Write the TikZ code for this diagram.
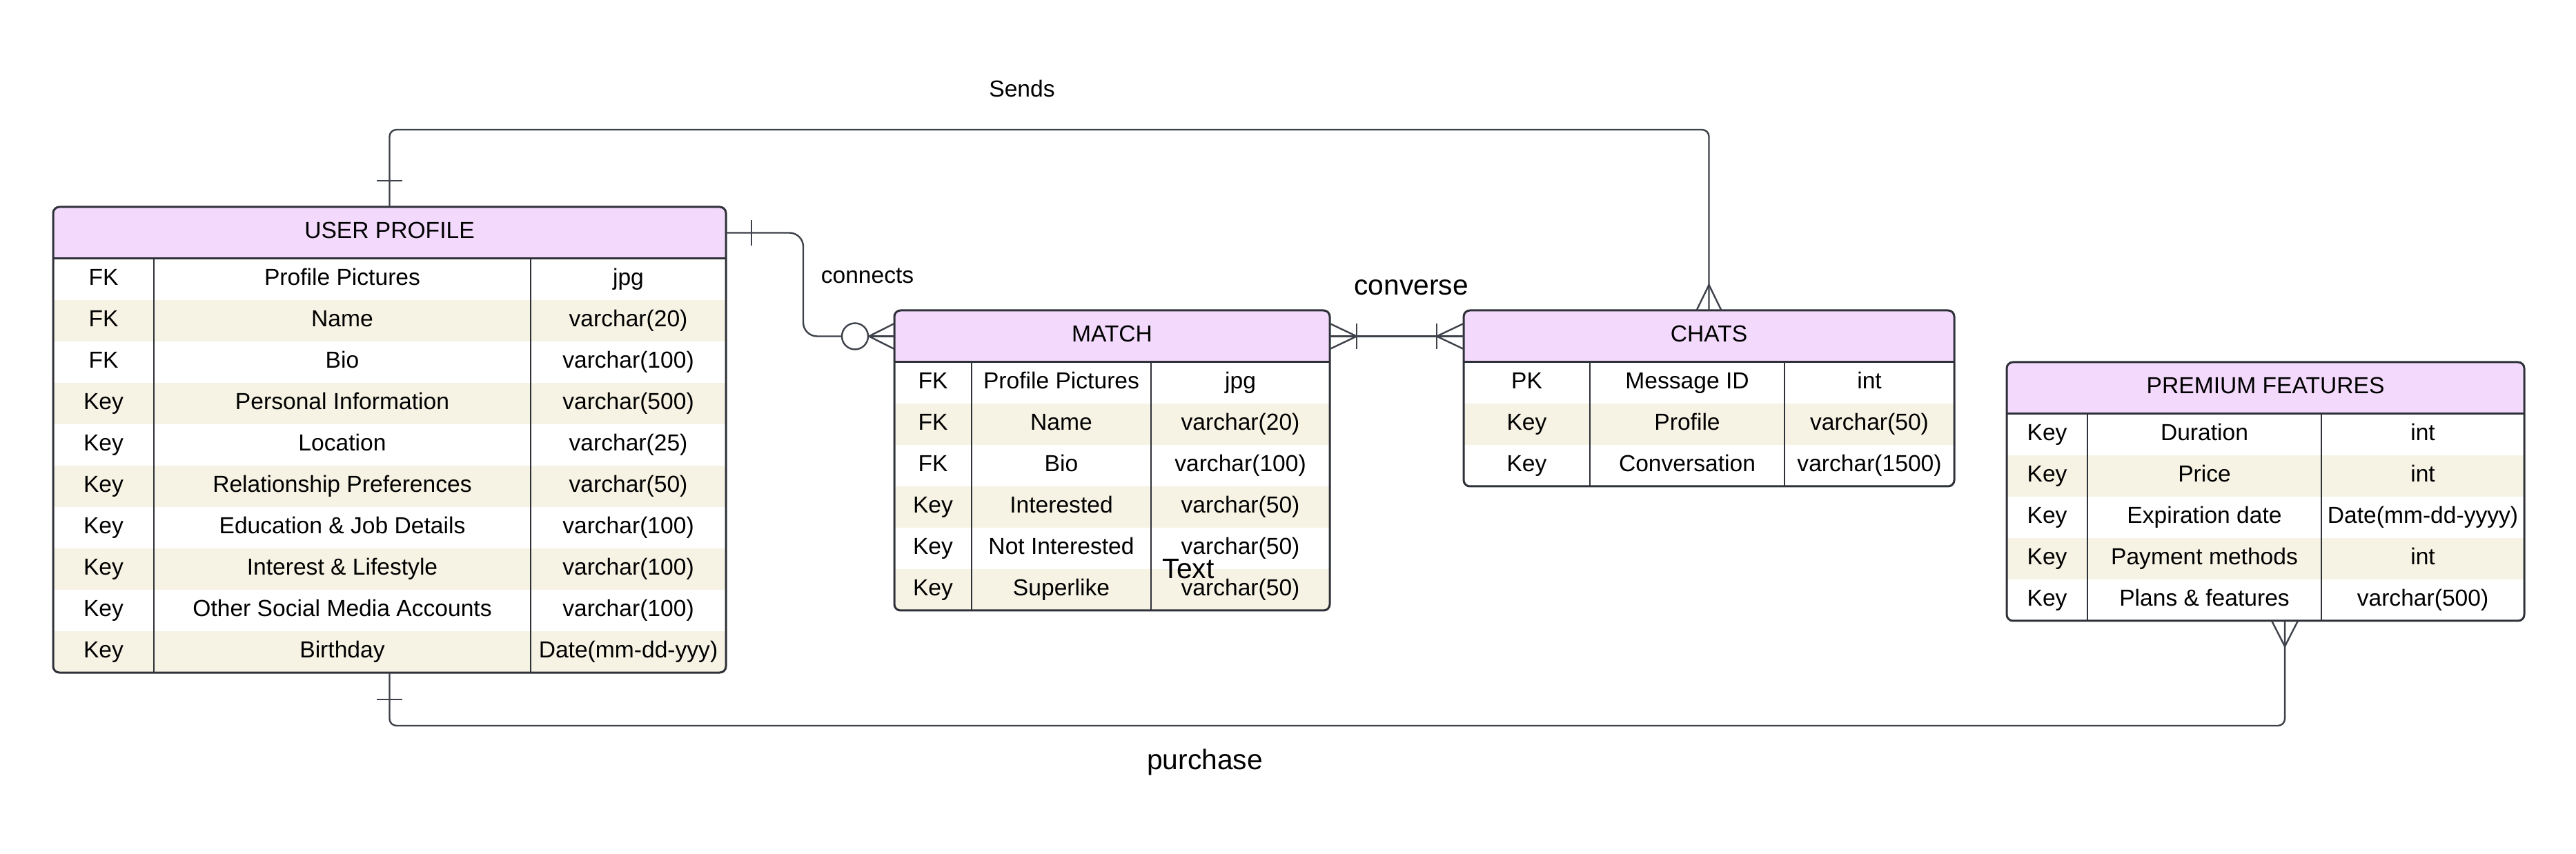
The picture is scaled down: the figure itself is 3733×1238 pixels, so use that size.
\documentclass[tikz,border=0pt]{standalone}
\usepackage{fontspec}
\setmainfont{Liberation Sans}
\usetikzlibrary{fit,calc}
\definecolor{hdrcol}{HTML}{F3D9FC}
\definecolor{rowcol}{HTML}{F6F3E4}
\definecolor{bordcol}{HTML}{2E3138}
\definecolor{conncol}{HTML}{3D4149}
\tikzset{
  fitbox/.style={inner sep=0pt, outer sep=0pt, draw=none},
  celltxt/.style={inner sep=0pt, outer sep=0pt, font=\fontsize{8.4pt}{10pt}\selectfont, text height=0.72em, text depth=0.21em, text=black},
  lbl/.style={inner sep=0pt, font=\fontsize{8.4pt}{10pt}\selectfont, text=black},
  biglbl/.style={inner sep=0pt, font=\fontsize{10.2pt}{12pt}\selectfont, text=black},
  tborder/.style={draw=bordcol, line width=0.75pt},
  tdiv/.style={draw=bordcol, line width=0.45pt},
  conn/.style={draw=conncol, line width=0.6pt},
}
% #1 name, #2 x left, #3 col1, #4 col2, #5 x right, #6 y top, #7 title, #8 rows, #9 number of rows
\newcommand\ertable[9]{%
  \pgfmathsetmacro\tabH{#6+75+60*#9}
  \coordinate (#1-nw) at (#2,#6);
  \coordinate (#1-se) at (#5,\tabH);
  \coordinate (#1-hse) at (#5,#6+75);
  \fill[white, rounded corners=2.25pt] (#1-nw) rectangle (#1-se);
  \begin{scope}
    \clip[rounded corners=2.25pt] (#1-nw) rectangle (#1-se);
    \fill[hdrcol] (#1-nw) rectangle (#1-hse);
    \foreach \rr in {1,...,#9} {
      \ifodd\rr\else
        \fill[rowcol] (#2,{#6+75+60*(\rr-1)}) rectangle (#5,{#6+75+60*\rr});
      \fi
    }
  \end{scope}
  \node[fitbox, fit=(#1-nw)(#1-hse)] (#1h) {};
  \node[fitbox, fit=(#1-nw)(#1-se)] (#1) {};
  \node[celltxt] (#1-title) at ($(#1h.center)+(0,-2)$) {#7};
  \foreach \ka/\kb/\kc [count=\rr] in {#8} {
    \pgfmathsetmacro\yc{#6+75+60*(\rr-0.5)-2}
    \node[celltxt] (#1-\rr-a) at ({(#2+#3)/2},\yc) {\ka};
    \node[celltxt] (#1-\rr-b) at ({(#3+#4)/2},\yc) {\kb};
    \node[celltxt] (#1-\rr-c) at ({(#4+#5)/2},\yc) {\kc};
  }
  \draw[tdiv] (#3,#6+75) -- (#3,\tabH);
  \draw[tdiv] (#4,#6+75) -- (#4,\tabH);
  \draw[tborder] (#2,#6+75) -- (#5,#6+75);
  \draw[tborder, rounded corners=2.25pt] (#1-nw) rectangle (#1-se);
}
\begin{document}
\begin{tikzpicture}[x=0.25pt, y=-0.25pt]
\useasboundingbox (0,0) rectangle (3733,1238);

\ertable{up}{77}{223}{769}{1052}{300}{USER PROFILE}{%
FK/Profile Pictures/jpg,
FK/Name/varchar(20),
FK/Bio/varchar(100),
Key/Personal Information/varchar(500),
Key/Location/varchar(25),
Key/Relationship Preferences/varchar(50),
Key/Education \& Job Details/varchar(100),
Key/Interest \& Lifestyle/varchar(100),
Key/Other Social Media Accounts/varchar(100),
Key/Birthday/Date(mm-dd-yyy)}{10}

\ertable{m}{1296}{1408}{1668}{1927}{450}{MATCH}{%
FK/Profile Pictures/jpg,
FK/Name/varchar(20),
FK/Bio/varchar(100),
Key/Interested/varchar(50),
Key/Not Interested/varchar(50),
Key/Superlike/varchar(50)}{6}

\ertable{ch}{2121}{2304}{2586}{2832}{450}{CHATS}{%
PK/Message ID/int,
Key/Profile/varchar(50),
Key/Conversation/varchar(1500)}{3}

\ertable{pf}{2908}{3025}{3364}{3658}{525}{PREMIUM FEATURES}{%
Key/Duration/int,
Key/Price/int,
Key/Expiration date/Date(mm-dd-yyyy),
Key/Payment methods/int,
Key/Plans \& features/varchar(500)}{5}

\coordinate (topy) at (0,188);
\coordinate (boty) at (0,1052);
\coordinate (cx) at (1164,0);
\coordinate (pfb) at ($(pf.south)+(28,0)$);

% Sends: USER PROFILE -> CHATS
\draw[conn, rounded corners=2.5pt] (up.north) -- (up.north |- topy) -- (chh.north |- topy) -- (chh.north);
\draw[conn] ($(up.north)+(-18.5,-38)$) -- ($(up.north)+(18.5,-38)$);
\draw[conn] ($(ch.north)+(-18,0)$) -- ($(ch.north)+(0,-37)$) -- ($(ch.north)+(18,0)$);

% connects: USER PROFILE -> MATCH
\node[circle, conn, fill=white, minimum size=9.5pt, inner sep=0pt] (mcirc) at ($(mh.west)+(-57,0)$) {};
\draw[conn, rounded corners=5pt] (uph.east) -- (uph.east -| cx) -- (mh.west -| cx) -- (mcirc.west);
\draw[conn] ($(uph.east)+(37,-18.5)$) -- ($(uph.east)+(37,18.5)$);
\draw[conn] ($(mh.west)+(0,-18.5)$) -- (mcirc.east) -- ($(mh.west)+(0,18.5)$);
\draw[conn] (mcirc.east) -- (mh.west);

% converse: MATCH -> CHATS
\draw[conn] (mh.east) -- (chh.west);
\draw[conn] ($(mh.east)+(0,-18.5)$) -- ($(mh.east)+(39,0)$) -- ($(mh.east)+(0,18.5)$);
\draw[conn] ($(mh.east)+(39,-18.5)$) -- ($(mh.east)+(39,18.5)$);
\draw[conn] ($(chh.west)+(0,-18.5)$) -- ($(chh.west)+(-39,0)$) -- ($(chh.west)+(0,18.5)$);
\draw[conn] ($(chh.west)+(-39,-18.5)$) -- ($(chh.west)+(-39,18.5)$);

% purchase: USER PROFILE -> PREMIUM FEATURES
\draw[conn, rounded corners=2.5pt] (pfb) -- (pfb |- boty) -- (up.south |- boty) -- (up.south);
\draw[conn] ($(pfb)+(-19,0)$) -- ($(pfb)+(0,37)$) -- ($(pfb)+(19,0)$);
\draw[conn] ($(up.south)+(-18.5,39)$) -- ($(up.south)+(18.5,39)$);

% labels
\node[lbl] (lsends) at (1481,129) {Sends};
\node[lbl] (lconn) at (1257,400) {connects};
\node[biglbl] (lconv) at (2045,417) {converse};
\node[biglbl] (lpurch) at (1746,1105) {purchase};
\node[biglbl] (ltext) at (1722,825) {Text};
\end{tikzpicture}
\end{document}
